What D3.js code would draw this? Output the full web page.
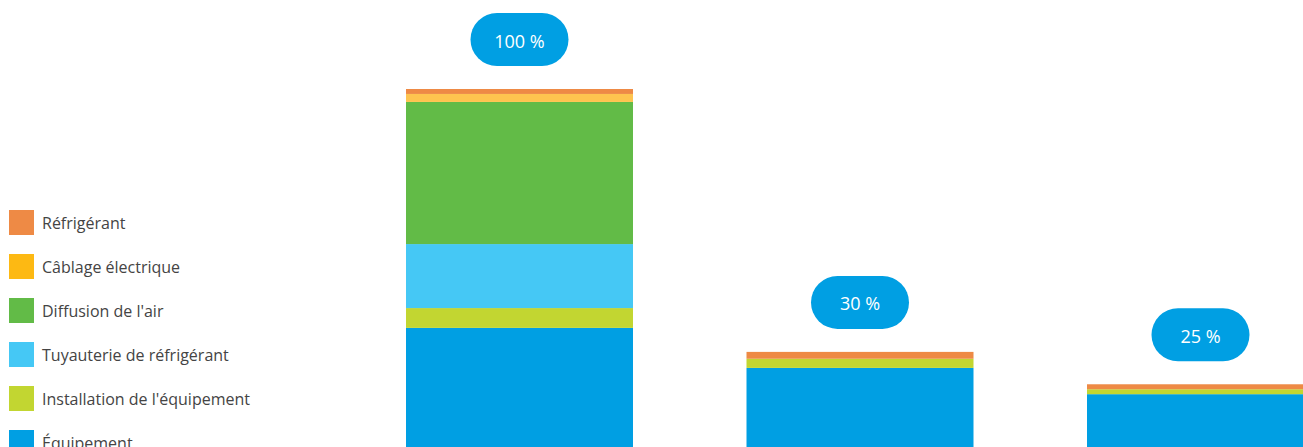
<!DOCTYPE html>
<html>
<head>
<meta charset="utf-8">
<script src="https://cdn.jsdelivr.net/npm/d3@7"></script>
<style>
  html, body { margin: 0; padding: 0; background: #fff; overflow: hidden; }
  svg { display: block; }
  text { font-family: "Open Sans", "Noto Sans", sans-serif; }
</style>
</head>
<body>
<svg id="chart" width="1303" height="447"></svg>
<script>
// ---- data ----
const categories = ["A", "B", "C"];
const labels = ["100 %", "30 %", "25 %"];
// series from bottom to top of the stack
const seriesNames = ["Équipement", "Installation de l'équipement", "Tuyauterie de réfrigérant", "Diffusion de l'air", "Câblage électrique", "Réfrigérant"];
const equipement   = [37.3, 26.8, 19.9];
const installation = [5.2, 2.4, 1.3];
const tuyauterie   = [16.8, 0, 0];
const diffusion    = [37.3, 0, 0];
const cablage      = [2.1, 0, 0];
const refrigerant  = [1.3, 1.8, 1.3];
const legendColors = ["#009fe3", "#c2d631", "#45c8f5", "#62bb47", "#fdb913", "#ee8a45"];
const barColors    = ["#009fe3", "#c2d631", "#45c8f5", "#62bb47", "#fec44f", "#ee8a45"];

const seriesValues = [equipement, installation, tuyauterie, diffusion, cablage, refrigerant];
const table = categories.map((c, i) => {
  const row = { cat: c };
  seriesNames.forEach((s, j) => row[s] = seriesValues[j][i]);
  return row;
});

const svg = d3.select("#chart");

const x = d3.scaleBand()
  .domain(categories)
  .range([349.25, 1370.75])
  .paddingInner(1 / 3)
  .paddingOuter(1 / 6);

const y = d3.scaleLinear()
  .domain([0, 100])
  .range([470, 89]);

const stack = d3.stack().keys(seriesNames);
const stacked = stack(table);

svg.append("g").selectAll("g")
  .data(stacked)
  .join("g")
  .attr("fill", (d, i) => barColors[i])
  .selectAll("rect")
  .data(d => d)
  .join("rect")
  .attr("x", d => x(d.data.cat))
  .attr("width", x.bandwidth())
  .attr("y", d => y(d[1]))
  .attr("height", d => Math.max(0, y(d[0]) - y(d[1])));

// pill labels
const pillW = 98, pillH = 53, gap = 23;
const totals = categories.map((c, i) => d3.sum(seriesValues, s => s[i]));
const pills = svg.append("g").selectAll("g")
  .data(categories)
  .join("g")
  .attr("transform", (c, i) => `translate(${x(c) + x.bandwidth() / 2},${y(totals[i]) - gap - pillH / 2})`);

pills.append("rect")
  .attr("x", -pillW / 2)
  .attr("y", -pillH / 2)
  .attr("width", pillW)
  .attr("height", pillH)
  .attr("rx", pillH / 2)
  .attr("ry", pillH / 2)
  .attr("fill", "#009fe3");

pills.append("text")
  .attr("text-anchor", "middle")
  .attr("dy", "0.45em")
  .attr("fill", "#fff")
  .attr("font-size", 18)
  .attr("font-weight", 400)
  .text((c, i) => labels[i]);

// legend (top to bottom: reverse of stack order)
const legendOrder = seriesNames.map((s, i) => i).reverse();
const legend = svg.append("g").selectAll("g")
  .data(legendOrder)
  .join("g")
  .attr("transform", (d, k) => `translate(9,${210 + k * 44})`);

legend.append("rect")
  .attr("width", 25)
  .attr("height", 25)
  .attr("fill", i => legendColors[i]);

legend.append("text")
  .attr("x", 33)
  .attr("y", 12.5)
  .attr("dy", "0.4em")
  .attr("fill", "#444")
  .attr("font-size", 16)
  .attr("font-weight", 400)
  .text(i => seriesNames[i]);
</script>
</body>
</html>
